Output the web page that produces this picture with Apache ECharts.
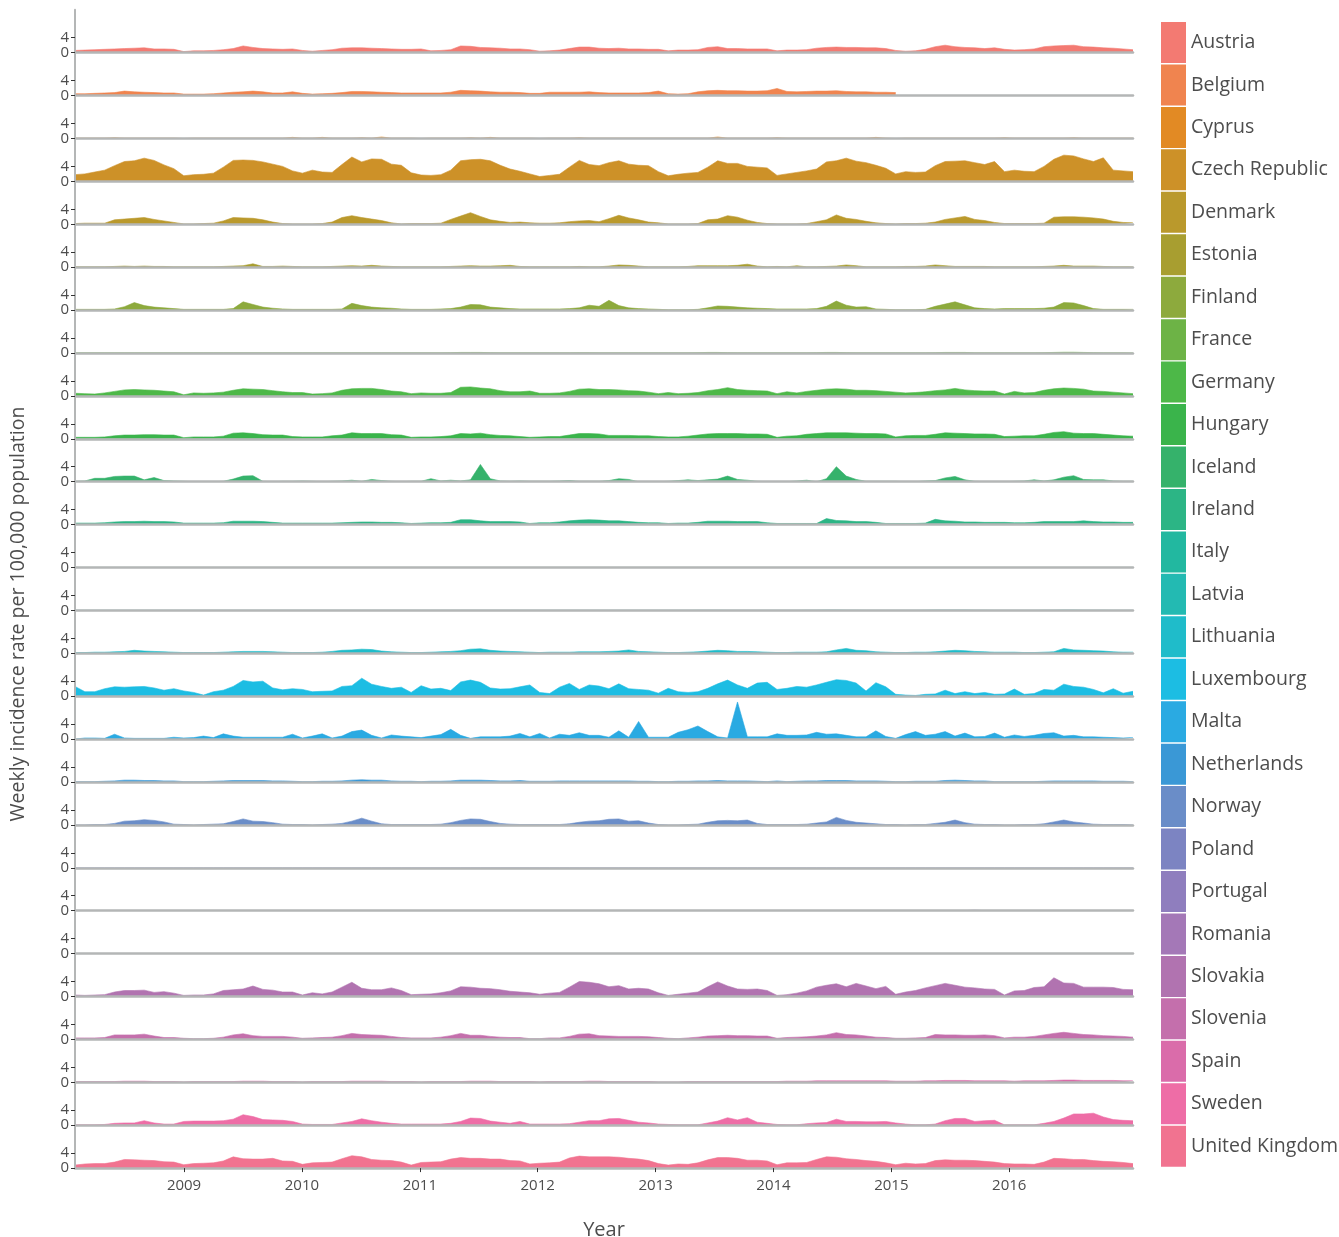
<!DOCTYPE html>
<html>
<head>
<meta charset="utf-8">
<script src="https://cdn.jsdelivr.net/npm/echarts@6/dist/echarts.min.js"></script>
<style>
html,body{margin:0;padding:0;background:#ffffff;}
#chart{width:1339px;height:1237px;}
</style>
</head>
<body>
<div id="chart"></div>
<script>
// ---------------- DATA ----------------
const countries = ["Austria","Belgium","Cyprus","Czech Republic","Denmark","Estonia","Finland","France","Germany","Hungary","Iceland","Ireland","Italy","Latvia","Lithuania","Luxembourg","Malta","Netherlands","Norway","Poland","Portugal","Romania","Slovakia","Slovenia","Spain","Sweden","United Kingdom"];
const firstX = 2008.075;   // first sample (decimal year)
const lastX = 2017.05;     // last sample (decimal year)
const yearTicks = [2009, 2010, 2011, 2012, 2013, 2014, 2015, 2016];
const yTicks = [0, 4];

// roughly monthly samples of weekly incidence per 100,000 (108 per country)
const austria = [
0.6,0.7,0.8,0.9,1.0,1.1,1.2,1.3,1.0,1.0,0.9,0.3,
0.5,0.5,0.6,0.8,1.1,1.8,1.4,1.1,1.0,0.9,1.0,0.6,
0.4,0.6,0.8,1.2,1.3,1.3,1.2,1.1,1.0,0.9,0.9,1.0,
0.5,0.6,0.8,1.8,1.7,1.4,1.3,1.2,1.0,1.0,0.8,0.4,
0.5,0.7,1.1,1.5,1.5,1.2,1.1,1.2,1.0,1.0,0.9,0.9,
0.5,0.7,0.7,0.8,1.4,1.6,1.1,1.1,1.0,1.0,1.0,0.5,
0.7,0.7,0.8,1.2,1.4,1.5,1.4,1.4,1.3,1.3,1.1,0.6,
0.4,0.5,0.9,1.6,2.0,1.6,1.4,1.3,1.1,1.3,0.9,0.7,
0.8,1.0,1.6,1.8,1.9,2.0,1.6,1.5,1.3,1.2,1.0,0.8];
const belgium = [
0.5,0.5,0.6,0.7,0.8,1.2,1.0,0.9,0.8,0.7,0.7,0.4,
0.4,0.4,0.5,0.7,0.9,1.0,1.2,1.0,0.7,0.7,1.0,0.6,
0.4,0.5,0.6,0.8,1.1,1.1,1.0,0.9,0.8,0.7,0.7,0.7,
0.7,0.7,0.9,1.4,1.3,1.2,1.0,0.9,0.9,0.8,0.6,0.6,
0.9,0.9,0.9,0.9,1.0,0.8,0.7,0.7,0.7,0.7,0.8,1.2,
0.5,0.4,0.5,1.0,1.3,1.4,1.3,1.3,1.2,1.2,1.3,1.9,
1.1,1.0,1.1,1.2,1.2,1.3,1.1,1.0,1.0,0.9,0.9,0.8,
null,null,null,null,null,null,null,null,null,null,null,null,
null,null,null,null,null,null,null,null,null,null,null,null];
const cyprus = [
0.1,0.1,0.1,0.1,0.2,0.1,0.1,0.1,0.1,0.1,0.1,0.0,
0.1,0.1,0.1,0.1,0.1,0.1,0.1,0.1,0.1,0.1,0.3,0.1,
0.1,0.3,0.1,0.1,0.1,0.2,0.1,0.4,0.1,0.1,0.1,0.0,
0.1,0.1,0.1,0.1,0.2,0.1,0.3,0.1,0.1,0.1,0.1,0.0,
0.1,0.1,0.1,0.2,0.1,0.1,0.1,0.1,0.1,0.1,0.1,0.1,
0.1,0.1,0.1,0.1,0.1,0.4,0.1,0.1,0.1,0.1,0.1,0.2,
0.1,0.1,0.1,0.1,0.1,0.1,0.1,0.1,0.1,0.3,0.1,0.0,
0.1,0.1,0.1,0.1,0.1,0.1,0.1,0.1,0.1,0.1,0.2,0.1,
0.1,0.1,0.1,0.1,0.1,0.2,0.1,0.1,0.1,0.1,0.1,0.1];
const czechRepublic = [
1.8,2.0,2.5,3.0,4.2,5.3,5.5,6.2,5.6,4.4,3.4,1.5,
1.8,1.9,2.2,3.8,5.6,5.7,5.6,5.2,4.6,4.0,2.8,2.2,
3.0,2.5,2.4,4.5,6.5,5.2,6.0,5.9,4.6,4.3,2.3,1.7,
1.6,1.8,3.0,5.5,5.8,5.9,5.5,4.3,3.3,2.7,2.0,1.3,
1.6,1.9,3.8,5.6,4.5,4.2,5.0,5.5,4.6,4.3,4.2,2.6,
1.5,1.9,2.2,2.4,3.8,5.5,4.8,4.8,4.0,3.8,3.6,1.6,
2.0,2.4,2.8,3.3,5.2,5.5,6.2,5.4,5.0,4.3,3.5,2.0,
2.6,2.4,2.5,4.2,5.3,5.4,5.5,5.0,4.5,5.3,2.6,3.0,
2.7,2.6,4.0,5.9,7.0,6.8,6.0,5.3,6.3,3.0,2.8,2.6];
const denmark = [
0.2,0.3,0.3,0.3,1.2,1.4,1.6,1.8,1.3,0.9,0.5,0.1,
0.1,0.2,0.3,0.9,1.8,1.7,1.6,1.2,0.6,0.2,0.1,0.1,
0.1,0.2,0.6,1.8,2.3,1.8,1.4,1.0,0.4,0.1,0.2,0.2,
0.2,0.3,1.3,2.2,3.1,2.1,1.2,0.8,0.5,0.6,0.4,0.3,
0.3,0.4,0.7,0.9,1.0,0.7,1.5,2.4,1.7,1.2,0.6,0.4,
0.1,0.1,0.1,0.2,1.2,1.4,2.3,1.9,1.1,0.5,0.2,0.1,
0.1,0.1,0.2,0.7,1.2,2.5,1.6,1.3,0.8,0.4,0.2,0.1,
0.2,0.2,0.3,0.6,1.3,1.7,2.1,1.3,1.0,0.5,0.2,0.2,
0.2,0.2,0.3,1.9,2.0,2.0,1.9,1.7,1.4,0.8,0.5,0.4];
const estonia = [
0.1,0.1,0.1,0.1,0.2,0.3,0.2,0.3,0.2,0.2,0.1,0.1,
0.1,0.1,0.1,0.2,0.3,0.4,0.9,0.2,0.2,0.3,0.2,0.1,
0.1,0.1,0.2,0.3,0.4,0.3,0.5,0.3,0.2,0.1,0.1,0.1,
0.1,0.1,0.2,0.3,0.4,0.3,0.3,0.4,0.5,0.2,0.1,0.1,
0.1,0.1,0.1,0.2,0.1,0.1,0.3,0.6,0.5,0.3,0.1,0.1,
0.1,0.1,0.2,0.4,0.4,0.4,0.4,0.5,0.8,0.3,0.1,0.2,
0.1,0.4,0.1,0.1,0.2,0.3,0.6,0.4,0.1,0.1,0.1,0.1,
0.2,0.2,0.3,0.6,0.4,0.2,0.2,0.2,0.2,0.1,0.1,0.1,
0.1,0.1,0.2,0.3,0.5,0.3,0.3,0.3,0.2,0.1,0.1,0.1];
const finland = [
0.2,0.2,0.2,0.2,0.3,0.9,2.0,1.2,0.8,0.6,0.4,0.2,
0.2,0.2,0.2,0.2,0.4,2.2,1.5,0.8,0.5,0.3,0.2,0.2,
0.2,0.2,0.2,0.3,1.8,1.2,0.8,0.6,0.5,0.3,0.2,0.2,
0.2,0.3,0.4,0.8,1.5,1.4,0.8,0.6,0.4,0.3,0.3,0.3,
0.3,0.3,0.4,0.6,1.3,1.0,2.6,1.2,0.6,0.4,0.3,0.2,
0.1,0.1,0.1,0.2,0.6,1.1,1.0,0.8,0.6,0.5,0.4,0.3,
0.3,0.3,0.3,0.4,1.0,2.4,1.3,0.8,0.9,0.3,0.2,0.1,
0.1,0.1,0.2,1.0,1.6,2.2,1.4,0.6,0.4,0.3,0.4,0.4,
0.4,0.4,0.5,0.8,2.0,1.9,1.2,0.4,0.2,0.2,0.2,0.2];
const france = [
0.05,0.05,0.05,0.05,0.05,0.05,0.05,0.05,0.05,0.05,0.05,0.05,
0.05,0.05,0.05,0.05,0.05,0.05,0.05,0.05,0.05,0.05,0.05,0.05,
0.05,0.05,0.05,0.05,0.05,0.05,0.05,0.05,0.05,0.05,0.05,0.05,
0.05,0.05,0.1,0.15,0.15,0.15,0.1,0.05,0.05,0.05,0.05,0.05,
0.05,0.05,0.05,0.1,0.1,0.05,0.05,0.05,0.05,0.05,0.05,0.05,
0.05,0.05,0.05,0.1,0.15,0.15,0.1,0.05,0.05,0.05,0.05,0.05,
0.05,0.05,0.05,0.1,0.15,0.15,0.1,0.05,0.05,0.05,0.05,0.05,
0.05,0.05,0.05,0.1,0.15,0.15,0.15,0.05,0.05,0.05,0.05,0.05,
0.05,0.05,0.1,0.15,0.2,0.2,0.15,0.1,0.05,0.05,0.05,0.05];
const germany = [
0.7,0.6,0.5,0.8,1.2,1.6,1.7,1.6,1.5,1.3,1.1,0.3,
0.8,0.7,0.8,1.0,1.5,1.9,1.8,1.7,1.4,1.1,0.9,0.9,
0.5,0.6,0.8,1.5,1.9,2.0,2.0,1.7,1.3,1.1,0.6,0.8,
0.7,0.7,0.9,2.3,2.4,2.1,1.9,1.4,1.1,1.1,1.3,0.7,
0.7,0.8,1.2,1.8,1.9,1.7,1.7,1.6,1.4,1.3,1.0,0.6,
0.9,0.6,0.7,0.9,1.4,1.7,2.2,1.7,1.5,1.4,1.3,0.6,
1.1,0.8,1.2,1.5,1.8,1.9,1.8,1.5,1.5,1.4,1.2,1.0,
0.8,0.9,1.1,1.4,1.6,2.0,1.6,1.4,1.3,1.3,0.5,1.2,
0.8,0.9,1.5,1.9,2.1,2.0,1.8,1.3,1.2,1.0,0.8,0.6];
const hungary = [
0.4,0.4,0.4,0.5,0.8,1.0,1.0,1.1,1.1,1.0,1.0,0.3,
0.5,0.5,0.5,0.7,1.5,1.6,1.4,1.1,1.0,1.0,0.6,0.5,
0.5,0.5,0.8,1.0,1.6,1.4,1.4,1.4,1.1,1.0,0.4,0.5,
0.5,0.6,0.8,1.4,1.3,1.5,1.1,0.9,0.8,0.6,0.4,0.5,
0.6,0.6,1.0,1.4,1.4,1.3,0.9,0.9,0.9,0.8,0.8,0.6,
0.5,0.5,0.7,1.0,1.3,1.4,1.4,1.4,1.3,1.3,1.2,0.4,
0.7,0.8,1.2,1.4,1.6,1.6,1.6,1.5,1.4,1.4,1.3,0.5,
0.8,0.9,0.9,1.2,1.6,1.5,1.4,1.3,1.3,1.2,0.6,0.7,
0.8,0.8,1.2,1.7,1.9,1.5,1.4,1.4,1.2,1.0,0.8,0.7];
const iceland = [
0.1,0.2,0.9,0.9,1.4,1.5,1.5,0.5,1.1,0.3,0.2,0.1,
0.0,0.0,0.0,0.1,0.7,1.5,1.6,0.1,0.0,0.1,0.1,0.2,
0.1,0.0,0.1,0.2,0.4,0.1,0.6,0.3,0.1,0.0,0.1,0.1,
0.8,0.2,0.4,0.2,0.5,4.6,0.8,0.2,0.1,0.2,0.1,0.1,
0.1,0.2,0.3,0.1,0.1,0.1,0.3,0.8,0.6,0.0,0.0,0.0,
0.1,0.3,0.5,0.3,0.5,0.7,1.5,0.6,0.4,0.1,0.0,0.0,
0.0,0.2,0.4,0.0,0.8,4.0,1.5,0.6,0.1,0.1,0.1,0.1,
0.0,0.0,0.2,0.3,1.0,1.4,0.5,0.1,0.0,0.0,0.0,0.1,
0.2,0.5,0.2,0.5,1.2,1.6,0.6,0.5,0.5,0.2,0.1,0.1];
const ireland = [
0.4,0.4,0.4,0.5,0.7,0.8,0.8,0.9,0.8,0.8,0.7,0.4,
0.4,0.4,0.4,0.5,0.9,0.9,0.9,0.8,0.6,0.4,0.4,0.4,
0.4,0.4,0.4,0.5,0.6,0.7,0.7,0.6,0.6,0.5,0.3,0.4,
0.5,0.5,0.6,1.3,1.3,1.0,0.8,0.8,0.8,0.7,0.3,0.5,
0.5,0.7,1.0,1.2,1.3,1.2,1.0,1.0,0.8,0.6,0.5,0.5,
0.3,0.4,0.4,0.6,0.9,0.9,0.9,0.8,0.8,0.8,0.5,0.3,
0.3,0.3,0.3,0.3,1.6,1.1,1.0,0.8,0.8,0.6,0.3,0.3,
0.3,0.3,0.4,1.4,1.0,0.9,0.7,0.7,0.6,0.6,0.6,0.5,
0.5,0.6,0.8,0.8,0.8,0.8,1.0,0.8,0.7,0.7,0.6,0.6];
const italy = [
0.02,0.02,0.02,0.02,0.02,0.02,0.02,0.02,0.02,0.02,0.02,0.02,
0.02,0.02,0.02,0.02,0.02,0.02,0.02,0.02,0.02,0.02,0.02,0.02,
0.02,0.02,0.02,0.02,0.02,0.02,0.02,0.02,0.02,0.02,0.02,0.02,
0.02,0.02,0.02,0.02,0.02,0.02,0.02,0.02,0.02,0.02,0.02,0.02,
0.02,0.02,0.02,0.02,0.02,0.02,0.02,0.02,0.02,0.02,0.02,0.02,
0.02,0.02,0.02,0.02,0.02,0.02,0.02,0.02,0.02,0.02,0.02,0.02,
0.02,0.02,0.02,0.02,0.02,0.02,0.02,0.02,0.02,0.02,0.02,0.02,
0.02,0.02,0.02,0.02,0.02,0.02,0.02,0.02,0.02,0.02,0.02,0.02,
0.02,0.02,0.02,0.02,0.02,0.02,0.02,0.02,0.02,0.02,0.02,0.02];
const latvia = [
0.02,0.02,0.02,0.02,0.02,0.02,0.02,0.02,0.02,0.02,0.02,0.02,
0.02,0.02,0.02,0.02,0.02,0.02,0.02,0.02,0.02,0.02,0.02,0.02,
0.02,0.02,0.02,0.02,0.02,0.02,0.02,0.02,0.02,0.02,0.02,0.02,
0.02,0.02,0.02,0.02,0.02,0.02,0.02,0.02,0.02,0.02,0.02,0.02,
0.02,0.02,0.02,0.02,0.02,0.02,0.02,0.02,0.02,0.02,0.02,0.02,
0.02,0.02,0.02,0.05,0.05,0.05,0.02,0.02,0.02,0.02,0.02,0.02,
0.02,0.02,0.05,0.05,0.1,0.1,0.05,0.05,0.02,0.02,0.02,0.02,
0.02,0.02,0.05,0.1,0.1,0.1,0.1,0.05,0.05,0.02,0.02,0.02,
0.02,0.02,0.05,0.05,0.1,0.1,0.05,0.05,0.05,0.02,0.02,0.02];
const lithuania = [
0.2,0.2,0.3,0.3,0.4,0.5,0.8,0.6,0.5,0.4,0.3,0.2,
0.2,0.2,0.2,0.3,0.4,0.5,0.5,0.5,0.4,0.3,0.2,0.2,
0.2,0.3,0.5,0.8,0.9,1.1,1.0,0.6,0.4,0.3,0.2,0.2,
0.3,0.4,0.5,0.7,1.1,1.2,0.8,0.6,0.5,0.4,0.3,0.2,
0.3,0.3,0.3,0.4,0.4,0.4,0.5,0.6,0.9,0.5,0.4,0.3,
0.2,0.2,0.3,0.4,0.6,0.8,0.7,0.5,0.5,0.4,0.3,0.2,
0.2,0.3,0.3,0.3,0.4,0.9,1.3,0.8,0.7,0.4,0.3,0.2,
0.2,0.3,0.3,0.4,0.6,0.8,0.7,0.5,0.4,0.3,0.3,0.3,
0.2,0.2,0.3,0.4,1.3,0.9,0.8,0.7,0.6,0.4,0.3,0.3];
const luxembourg = [
2.6,1.2,1.2,2.0,2.5,2.4,2.5,2.6,2.2,1.6,2.0,1.4,
1.0,0.3,1.2,1.6,2.6,4.2,3.8,4.0,2.2,1.7,2.0,1.8,
1.2,1.3,1.4,2.6,2.8,4.8,3.2,2.6,2.1,2.4,1.0,2.8,
1.9,2.1,1.5,3.8,4.3,3.7,2.2,1.9,2.0,2.5,3.0,1.0,
0.7,2.4,3.4,1.8,3.0,2.7,2.0,3.3,2.0,1.8,1.6,0.8,
2.1,1.2,1.0,1.2,2.1,3.3,4.3,3.0,2.1,3.5,3.7,1.8,
2.1,2.6,2.4,3.0,3.7,4.4,4.2,3.5,1.4,3.6,2.5,0.5,
0.3,0.2,0.5,0.6,1.6,0.7,1.2,0.7,1.0,0.5,0.6,1.9,
0.5,0.7,1.8,1.6,3.2,2.6,2.4,1.8,0.9,2.0,0.8,1.3];
const malta = [
0.0,0.3,0.3,0.2,1.3,0.3,0.2,0.2,0.2,0.2,0.5,0.3,
0.4,0.8,0.4,1.4,0.8,0.5,0.5,0.5,0.5,0.5,1.3,0.3,
0.8,1.4,0.3,0.8,2.0,2.4,1.0,0.3,1.1,0.8,0.6,0.4,
0.8,1.2,2.6,1.0,0.2,0.6,0.6,0.6,0.8,1.5,0.6,1.5,
0.3,1.3,1.0,1.7,1.0,1.0,0.5,2.2,0.5,4.7,0.5,0.5,
0.5,1.8,2.5,3.5,2.0,0.6,0.3,9.9,0.6,0.6,0.6,1.4,
1.0,1.0,1.1,1.8,1.3,1.4,1.0,0.6,0.6,2.2,0.7,0.2,
1.2,2.0,1.0,1.3,2.0,0.8,1.6,0.6,0.7,1.6,0.5,1.1,
0.7,1.0,1.5,1.7,0.8,1.0,0.6,0.6,0.5,0.4,0.3,0.4];
const netherlands = [
0.1,0.1,0.1,0.2,0.3,0.5,0.5,0.4,0.4,0.3,0.3,0.1,
0.1,0.1,0.2,0.3,0.4,0.4,0.4,0.4,0.3,0.3,0.2,0.1,
0.1,0.2,0.2,0.3,0.5,0.6,0.5,0.5,0.3,0.2,0.2,0.1,
0.2,0.2,0.3,0.5,0.5,0.5,0.4,0.3,0.3,0.4,0.2,0.2,
0.2,0.3,0.3,0.3,0.3,0.3,0.3,0.3,0.3,0.2,0.2,0.1,
0.1,0.2,0.2,0.3,0.3,0.4,0.3,0.3,0.3,0.2,0.1,0.3,
0.1,0.2,0.3,0.3,0.4,0.4,0.4,0.3,0.3,0.3,0.2,0.1,
0.1,0.2,0.2,0.2,0.4,0.5,0.4,0.3,0.3,0.1,0.1,0.1,
0.1,0.1,0.2,0.3,0.3,0.3,0.3,0.3,0.2,0.2,0.2,0.1];
const norway = [
0.0,0.0,0.1,0.1,0.4,1.0,1.1,1.4,1.2,0.8,0.2,0.1,
0.0,0.1,0.2,0.3,0.9,1.6,1.0,0.9,0.6,0.2,0.1,0.1,
0.0,0.1,0.2,0.4,1.0,1.8,1.0,0.3,0.1,0.1,0.1,0.1,
0.1,0.2,0.6,1.2,1.6,1.5,0.9,0.4,0.2,0.1,0.1,0.1,
0.1,0.1,0.3,0.7,1.0,1.1,1.5,1.6,1.0,1.1,0.5,0.1,
0.0,0.0,0.1,0.2,0.7,1.1,1.2,1.1,1.3,0.4,0.1,0.1,
0.1,0.1,0.2,0.5,0.8,2.0,1.2,0.7,0.5,0.3,0.1,0.1,
0.0,0.1,0.1,0.4,0.7,1.3,0.6,0.2,0.1,0.1,0.0,0.0,
0.1,0.1,0.3,0.8,1.3,0.8,0.5,0.2,0.1,0.1,0.1,0.0];
const poland = [
0.02,0.02,0.02,0.02,0.02,0.02,0.02,0.02,0.02,0.02,0.02,0.02,
0.02,0.02,0.02,0.02,0.02,0.02,0.02,0.02,0.02,0.02,0.02,0.02,
0.02,0.02,0.02,0.02,0.02,0.02,0.02,0.02,0.02,0.02,0.02,0.02,
0.02,0.02,0.02,0.02,0.02,0.02,0.02,0.02,0.02,0.02,0.02,0.02,
0.02,0.02,0.02,0.02,0.02,0.02,0.02,0.02,0.02,0.02,0.02,0.02,
0.02,0.02,0.02,0.02,0.02,0.02,0.02,0.02,0.02,0.02,0.02,0.02,
0.02,0.02,0.02,0.02,0.02,0.02,0.02,0.02,0.02,0.02,0.02,0.02,
0.02,0.02,0.02,0.02,0.02,0.02,0.02,0.02,0.02,0.02,0.02,0.02,
0.02,0.02,0.02,0.02,0.02,0.02,0.02,0.02,0.02,0.02,0.02,0.02];
const portugal = [
0.02,0.02,0.02,0.02,0.02,0.02,0.02,0.02,0.02,0.02,0.02,0.02,
0.02,0.02,0.02,0.02,0.02,0.02,0.02,0.02,0.02,0.02,0.02,0.02,
0.02,0.02,0.02,0.02,0.02,0.02,0.02,0.02,0.02,0.02,0.02,0.02,
0.02,0.02,0.02,0.02,0.02,0.02,0.02,0.02,0.02,0.02,0.02,0.02,
0.02,0.02,0.02,0.02,0.02,0.02,0.02,0.02,0.02,0.02,0.02,0.02,
0.02,0.02,0.02,0.02,0.02,0.02,0.02,0.02,0.02,0.02,0.02,0.02,
0.02,0.02,0.02,0.02,0.02,0.02,0.02,0.02,0.02,0.02,0.02,0.02,
0.02,0.02,0.02,0.02,0.02,0.02,0.02,0.15,0.02,0.02,0.02,0.02,
0.02,0.02,0.02,0.02,0.02,0.02,0.02,0.02,0.02,0.02,0.02,0.02];
const romania = [
0.01,0.01,0.01,0.01,0.01,0.01,0.01,0.01,0.01,0.01,0.01,0.01,
0.01,0.01,0.01,0.01,0.01,0.01,0.01,0.01,0.01,0.01,0.01,0.01,
0.01,0.01,0.01,0.01,0.01,0.01,0.01,0.01,0.01,0.01,0.01,0.01,
0.01,0.01,0.01,0.01,0.01,0.01,0.01,0.01,0.01,0.01,0.01,0.01,
0.01,0.01,0.01,0.01,0.01,0.01,0.01,0.01,0.01,0.01,0.01,0.01,
0.01,0.01,0.01,0.01,0.01,0.01,0.01,0.01,0.01,0.01,0.01,0.01,
0.01,0.01,0.01,0.01,0.01,0.01,0.01,0.01,0.01,0.01,0.01,0.01,
0.01,0.01,0.01,0.01,0.01,0.01,0.01,0.01,0.01,0.01,0.01,0.01,
0.01,0.01,0.01,0.01,0.01,0.01,0.01,0.01,0.01,0.01,0.01,0.01];
const slovakia = [
0.4,0.3,0.4,0.5,1.2,1.6,1.6,1.7,1.1,1.3,0.9,0.3,
0.4,0.4,0.7,1.6,1.8,2.0,2.8,1.9,1.7,1.2,1.2,0.4,
1.0,0.7,1.2,2.5,3.8,2.2,1.8,1.8,2.3,1.6,0.5,0.6,
0.7,1.0,1.5,2.6,2.5,2.2,2.1,1.8,1.4,1.2,1.0,0.6,
0.9,1.1,2.5,4.0,3.8,3.4,2.6,2.9,2.0,2.2,2.0,1.0,
0.3,0.6,0.9,1.2,2.6,3.9,2.8,2.0,1.9,2.0,1.6,0.3,
0.5,0.9,1.5,2.5,3.0,3.4,2.6,3.5,2.8,2.1,2.7,0.6,
1.2,1.6,2.3,2.9,3.5,3.0,2.5,2.3,2.0,1.9,0.4,1.5,
1.6,2.4,2.6,5.0,3.6,3.5,2.5,2.5,2.5,2.4,1.9,1.8];
const slovenia = [
0.4,0.4,0.4,0.5,1.2,1.2,1.2,1.4,0.9,0.5,0.5,0.3,
0.2,0.2,0.3,0.6,1.2,1.5,1.0,0.8,0.8,0.8,0.6,0.3,
0.4,0.5,0.6,1.0,1.6,1.3,1.2,1.1,0.8,0.5,0.4,0.4,
0.4,0.6,1.0,1.6,1.1,1.1,0.8,0.6,0.5,0.5,0.2,0.2,
0.4,0.4,0.8,1.4,1.5,1.0,0.9,0.8,0.8,0.8,0.7,0.5,
0.3,0.2,0.4,0.6,0.9,1.0,1.1,1.0,1.0,0.9,0.9,0.3,
0.5,0.6,0.7,0.9,1.2,1.8,1.3,1.2,0.9,0.6,0.5,0.3,
0.3,0.4,0.5,1.3,1.2,1.2,1.1,1.1,1.2,1.0,0.4,0.6,
0.6,0.8,1.2,1.6,1.9,1.6,1.3,1.2,1.0,0.9,0.8,0.6];
const spain = [
0.2,0.2,0.2,0.2,0.2,0.3,0.3,0.3,0.2,0.2,0.2,0.1,
0.2,0.2,0.2,0.2,0.2,0.3,0.3,0.3,0.2,0.2,0.2,0.1,
0.2,0.2,0.2,0.2,0.3,0.3,0.3,0.3,0.2,0.2,0.2,0.1,
0.2,0.2,0.2,0.2,0.3,0.3,0.3,0.2,0.2,0.2,0.2,0.1,
0.2,0.2,0.2,0.2,0.3,0.3,0.2,0.2,0.2,0.2,0.2,0.1,
0.1,0.1,0.2,0.2,0.2,0.2,0.2,0.2,0.2,0.2,0.2,0.2,
0.3,0.3,0.3,0.4,0.4,0.4,0.4,0.4,0.4,0.4,0.4,0.3,
0.3,0.3,0.4,0.4,0.5,0.5,0.5,0.4,0.4,0.4,0.4,0.3,
0.4,0.4,0.4,0.5,0.6,0.6,0.5,0.5,0.5,0.5,0.4,0.4];
const sweden = [
0.1,0.1,0.1,0.2,0.5,0.6,0.6,1.2,0.6,0.3,0.3,1.0,
1.1,1.1,1.1,1.2,1.6,2.8,2.3,1.5,1.4,1.3,1.0,0.3,
0.2,0.2,0.2,0.6,1.0,1.7,1.2,0.8,0.5,0.3,0.3,0.3,
0.3,0.3,0.5,1.0,1.9,1.8,1.1,0.8,0.5,1.0,0.3,0.3,
0.3,0.3,0.4,0.8,1.2,1.2,1.7,1.8,1.3,0.8,0.6,0.3,
0.2,0.1,0.1,0.1,0.6,1.1,2.0,1.4,2.0,0.8,0.5,0.2,
0.1,0.1,0.4,0.6,0.7,1.6,1.0,1.0,0.9,0.9,1.0,0.6,
0.3,0.1,0.1,0.3,1.2,1.8,1.8,1.0,1.2,1.3,0.1,0.1,
0.1,0.1,0.5,1.0,1.9,3.0,3.0,3.2,2.2,1.5,1.3,1.2];
const unitedKingdom = [
0.8,1.1,1.2,1.2,1.6,2.3,2.2,2.1,2.0,1.7,1.6,0.9,
1.2,1.3,1.4,1.9,3.0,2.5,2.4,2.4,2.6,1.9,1.8,1.0,
1.4,1.5,1.6,2.5,3.3,3.0,2.3,2.1,2.0,1.6,0.8,1.5,
1.6,1.7,2.4,2.8,2.6,2.6,2.4,2.4,2.0,1.9,1.1,1.3,
1.4,1.6,2.7,3.2,3.0,3.0,3.0,2.9,2.6,2.4,2.0,1.2,
0.8,1.1,1.0,1.4,2.2,2.8,2.8,2.6,2.1,2.1,1.9,0.9,
1.4,1.4,1.5,2.3,3.0,2.9,2.5,2.3,2.0,1.8,1.4,0.9,
1.3,1.1,1.2,2.0,2.2,2.1,2.1,2.0,1.8,1.6,1.2,1.1,
1.1,1.0,1.6,2.6,2.5,2.3,2.3,2.0,1.8,1.7,1.5,1.2];

const seriesValues = [austria, belgium, cyprus, czechRepublic, denmark, estonia, finland, france, germany, hungary, iceland, ireland, italy, latvia, lithuania, luxembourg, malta, netherlands, norway, poland, portugal, romania, slovakia, slovenia, spain, sweden, unitedKingdom];

// ---------------- STYLE ----------------
const palette = ["#F37A72","#F0844F","#E28A24","#CD9128","#BA992C","#A89E30","#8DAA3D","#6DB346","#4DB848","#3AB44B","#35B26B","#2CB585","#22B8A0","#23BAB2","#1FBCCA","#1CBDE3","#2AAAE2","#3A98D6","#6A8DC8","#7C84C2","#8F7EBE","#A478B7","#B173B0","#C46FAC","#DA6CAA","#EE6DA6","#F17390"];

const FONT = "'Open Sans', 'Noto Sans', sans-serif";
const TEXT = '#4d4d4d';
const AXIS_GRAY = '#b4b6b6';
const pitch = 42.9, top0 = 9.8, gridLeft = 75, gridRight = 206;
const yMax = 11.44;
const n = countries.length;

const grids = [], xAxes = [], yAxes = [], series = [];
countries.forEach((name, k) => {
  const last = k === n - 1;
  const color = palette[k];
  const vals = seriesValues[k];
  const step = (lastX - firstX) / (vals.length - 1);
  grids.push({ left: gridLeft, right: gridRight, top: top0 + pitch * k, height: pitch,
               containLabel: false, outerBoundsMode: 'none' });
  xAxes.push({
    type: 'value', gridIndex: k, min: firstX, max: lastX, z: 5,
    axisLine: { show: true, onZero: false, lineStyle: { color: AXIS_GRAY, width: 2.5 } },
    axisTick: { show: last, customValues: yearTicks, length: 4, lineStyle: { color: '#333333', width: 1 } },
    axisLabel: { show: last, customValues: yearTicks, fontSize: 15, color: TEXT, fontFamily: FONT, margin: 10,
                 formatter: v => String(v) },
    splitLine: { show: false },
    name: last ? 'Year' : '', nameLocation: 'middle', nameGap: 52,
    nameTextStyle: { fontSize: 20, color: TEXT, fontFamily: FONT }
  });
  yAxes.push({
    type: 'value', gridIndex: k, min: 0, max: yMax, z: 5,
    axisLine: { show: true, onZero: false, lineStyle: { color: AXIS_GRAY, width: 2 } },
    axisTick: { show: true, customValues: yTicks, length: 4, lineStyle: { color: '#333333', width: 1 } },
    axisLabel: { customValues: yTicks, fontSize: 15, color: TEXT, fontFamily: FONT, margin: 6, hideOverlap: false },
    splitLine: { show: false }
  });
  series.push({
    name: name, type: 'line', xAxisIndex: k, yAxisIndex: k,
    data: vals.map((v, j) => [firstX + j * step, v]),
    showSymbol: false, symbol: 'none', connectNulls: false,
    color: color,
    lineStyle: { width: 0.6, color: color },
    areaStyle: { color: color, opacity: 1 },
    silent: true
  });
});

const chart = echarts.init(document.getElementById('chart'), null, { renderer: 'canvas' });
chart.setOption({
  animation: false,
  backgroundColor: '#ffffff',
  grid: grids,
  xAxis: xAxes,
  yAxis: yAxes,
  series: series,
  legend: {
    orient: 'vertical', left: 1161, top: 22,
    itemWidth: 25, itemHeight: 41, itemGap: 1.45,
    icon: 'rect', selectedMode: false, padding: 0,
    itemStyle: { borderWidth: 0 },
    textStyle: { fontSize: 19.5, color: TEXT, fontFamily: FONT },
    data: countries
  },
  graphic: [{
    type: 'text', x: 18, y: 614, rotation: Math.PI / 2,
    style: { text: 'Weekly incidence rate per 100,000 population', fontSize: 19.5, fontFamily: FONT, fill: TEXT, align: 'center', verticalAlign: 'middle' }
  }]
});
</script>
</body>
</html>
